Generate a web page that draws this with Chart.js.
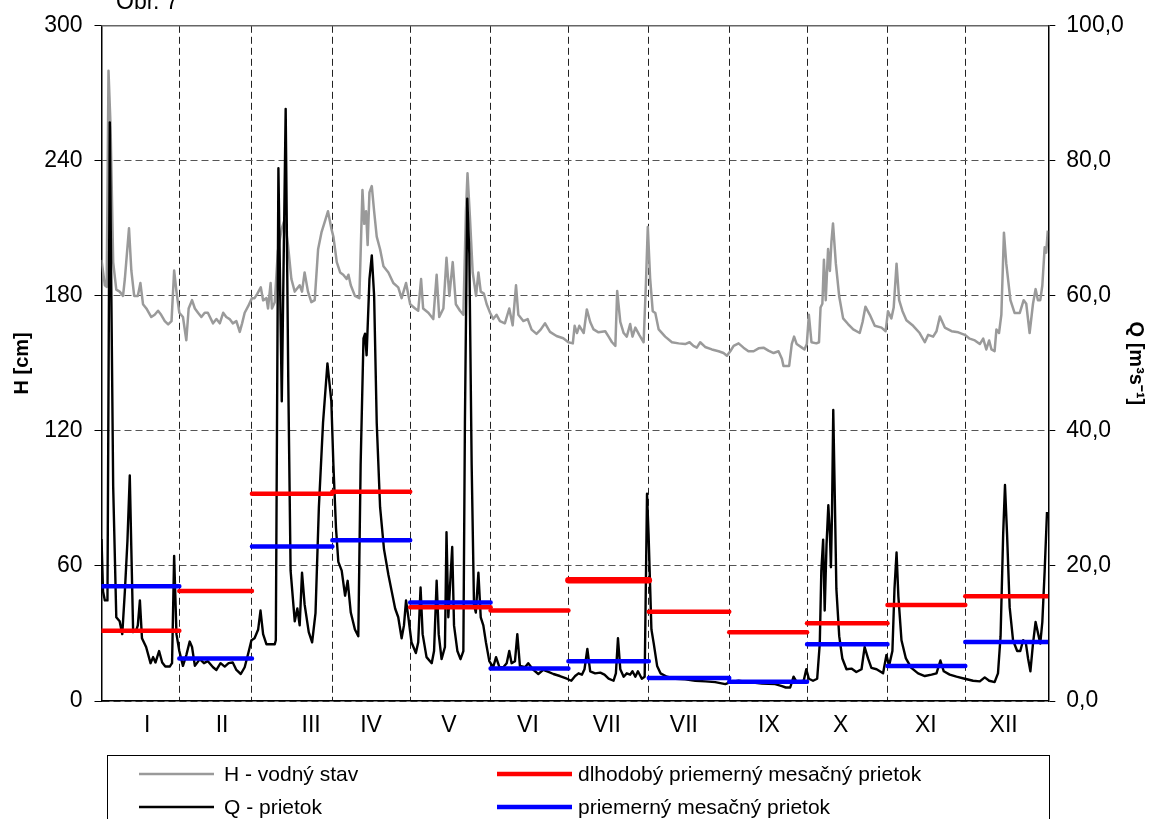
<!DOCTYPE html>
<html>
<head>
<meta charset="utf-8">
<title>Vodný stav a prietok</title>
<script src="https://cdn.jsdelivr.net/npm/chart.js@4.4.1/dist/chart.umd.min.js"></script>
<style>
  html, body { margin: 0; padding: 0; background: #fff; }
  #wrap { position: relative; width: 1158px; height: 819px; overflow: hidden; }
</style>
</head>
<body>
<div id="wrap"><canvas id="chart" width="1158" height="819"></canvas></div>
<script>
// Month labels (Roman numerals as printed) and where they sit on the day axis
const monthNames = ['I', 'II', 'III', 'IV', 'V', 'VI', 'VII', 'VII', 'IX', 'X', 'XI', 'XII'];
const monthTickDays = [17.6, 46.5, 80.8, 103.9, 133.9, 164.4, 194.8, 224.5, 257.3, 285, 317.8, 347.8];
// Month boundaries (day index), used for dashed separators and monthly bars
const monthEdges = [0, 30, 58, 89, 119, 150, 180, 211, 242, 272, 303, 333, 365];

// H - vodný stav [cm], daily readings (day index, value)
const hDays = [
  0, 1.3, 2, 2.7, 3.5, 4.5, 5.7, 7, 8.3, 9, 10.6, 11.5, 12.6, 14, 15, 16, 17.3, 19.2, 20.5, 21.8,
  23, 24.4, 25.7, 27, 28, 28.9, 30, 31.4, 32.7, 33.6, 34.9, 36, 37.2, 38.5, 39.8, 41, 43, 44.3, 45.6, 46.9,
  48.1, 49.4, 50.6, 52, 53.3, 54.2, 55.2, 56.5, 58, 59, 60.1, 61.4, 62.3, 63.6, 64.2, 65.2, 65.7, 66.8, 68, 69.5,
  70.6, 71.9, 73.2, 74.5, 76.4, 77.3, 78.3, 79.6, 80.9, 82.2, 83.5, 84.8, 86.3, 87.3, 88.6, 89.4, 90.7, 92, 93.2, 94.5,
  95.2, 96.1, 97.7, 99.4, 100.6, 101.3, 102, 102.6, 103.3, 104.2, 105.1, 106.1, 107.4, 108.7, 110.6, 112.5, 114.4, 115.7, 117.4, 119,
  120.9, 122.1, 123.2, 124, 126, 127.9, 129.2, 130.2, 131.8, 133, 134.1, 135.4, 136.6, 138.2, 139.5, 140.5, 141.1, 142, 143.1, 144.4,
  145.3, 146.2, 147.4, 148.5, 149.8, 151, 152.3, 153.6, 155.5, 157.2, 158.5, 159.8, 160.7, 162.6, 164.3, 165.8, 167.7, 169.3, 171, 172.9,
  175.4, 178, 180, 181.7, 182.4, 183.3, 184.2, 185.9, 187.1, 188.4, 189.7, 191.6, 194.2, 195.5, 196.8, 198.1, 198.8, 200, 201.3, 202.5,
  203.8, 204.7, 205.8, 207.3, 209, 209.9, 210.6, 211.5, 212.5, 213.5, 214.8, 217.3, 219.9, 222.5, 225, 226.7, 228.2, 229.5, 230.8, 232.7,
  235.3, 237.9, 239.8, 241.1, 242.4, 243.7, 245.6, 247.5, 249.4, 251.4, 253.3, 255.2, 257.1, 259.1, 261, 262.3, 262.9, 265.1, 266.1, 267,
  268, 270, 271, 271.9, 272.7, 273.7, 275.6, 276.6, 277.2, 277.9, 278.5, 279.2, 280.1, 280.8, 281.4, 282, 283.1, 284.4, 285.9, 287.8,
  289.8, 292.3, 293.4, 294.5, 296.2, 298.1, 300.7, 302.3, 303.2, 304.5, 305.4, 306.5, 307.5, 308.8, 310.3, 312.9, 315.4, 317.4, 318.7, 320.6,
  321.9, 323.2, 325.1, 327.7, 330.3, 332.8, 334.7, 336.7, 338.6, 339.9, 341.1, 342.2, 343.1, 344.3, 345, 346, 346.9, 347.9, 348.8, 350.4,
  352, 354, 355.5, 356.5, 357.8, 359.1, 360.1, 361, 361.9, 362.7, 363.6, 364.2, 364.8
];
const hValues = [
  196, 184.7, 184, 280, 255, 195, 182.8, 181.9, 180, 187.5, 210, 191.3, 180, 180, 185.7, 176.3, 174.4, 170.6, 171.6, 173.4,
  171.6, 168.8, 167.3, 168.8, 191.3, 181.9, 172.5, 170.6, 160.3, 174.4, 178.1, 174.4, 172.5, 170.6, 172.5, 172.5, 167.8, 169.7, 167.8, 172.5,
  170.6, 169.7, 167.8, 168.8, 164, 167.8, 172.5, 175.3, 179, 179, 181, 183.8, 178, 179, 174.4, 185.7, 174.4, 177.2, 200, 210,
  214, 202.6, 187.5, 181.9, 184.7, 181.9, 190.4, 181.9, 177.2, 178.1, 200.7, 208.2, 213.8, 217.6, 210, 206.3, 195, 190.4, 189.4, 187.5,
  189.4, 184.7, 180, 179, 227, 212, 217.6, 202.6, 226, 228.8, 217.6, 206.3, 200.7, 193.2, 190.4, 185.7, 183.8, 179, 185.7, 176.3,
  174.4, 173.4, 187.5, 174.4, 172.5, 169.7, 189.4, 170.6, 174.4, 196.9, 180, 195, 176.3, 173.4, 171.6, 217.6, 234.5, 215.7, 190.4, 180,
  190.4, 181.9, 181, 176.3, 172.5, 169.7, 171.6, 168.8, 167.8, 174.4, 166.9, 184.7, 171.6, 168.8, 169.7, 165, 163.1, 165, 167.8, 164,
  162.2, 161.2, 159.4, 158.9, 166.7, 163.5, 166.7, 163.5, 174, 168.4, 165.1, 163.8, 164.3, 161.9, 159.4, 157.8, 182.2, 168.4, 163.5, 161.9,
  167.5, 161.9, 165.9, 162.7, 159.4, 186.2, 210.6, 187.8, 173.2, 172.4, 165.1, 161.9, 159.4, 158.9, 158.6, 159.4, 157.8, 157, 159.4, 157.3,
  156.2, 155.4, 154.6, 153.4, 155.4, 157.8, 158.9, 157, 155.4, 155.4, 156.7, 157, 155.7, 154.6, 155.4, 152.1, 148.9, 148.9, 158.6, 161.9,
  158.6, 157, 156.2, 158.6, 171.6, 159.4, 158.9, 159.4, 174.8, 176.5, 196, 178.1, 200.8, 191.1, 204.1, 212.2, 194.3, 179.7, 170, 167.5,
  165.1, 163.5, 168.4, 175.2, 171.6, 166.7, 165.9, 164.3, 173.2, 170, 174.8, 194.3, 178.1, 173.2, 169.2, 166.7, 163.5, 159.4, 162.7, 161.9,
  164.3, 170.8, 165.9, 164.3, 163.8, 162.7, 161, 160.2, 158.6, 161, 156.2, 160.2, 156.2, 155.4, 165.1, 163.5, 171.6, 208.1, 194.3, 178.1,
  172.4, 172.4, 178.1, 176.5, 163.5, 176.5, 183, 178.1, 178.1, 184.6, 201.6, 199.2, 209
];

// Q - prietok [m3/s], daily readings (day index, value)
const qDays = [
  0, 0.6, 1.3, 2.3, 3.2, 3.8, 4.5, 5.7, 7, 8, 9, 10, 10.9, 11.5, 12.2, 13.5, 14, 14.8, 15.6, 17.2,
  18.9, 19.9, 20.8, 22.2, 23.4, 24.6, 26.3, 27.2, 28, 28.9, 30, 31.4, 32.7, 34, 34.9, 36, 37.9, 39.5, 41, 43,
  44.3, 45.9, 47.5, 49, 50.6, 52, 53.7, 55.2, 56.8, 57.8, 59, 60.4, 61.3, 62.3, 63.6, 65.5, 66.8, 67.2, 68.2, 69.5,
  71, 72, 72.9, 74.5, 75.5, 76.4, 77.3, 78.3, 79.9, 81.2, 82.5, 83.8, 85.4, 87.1, 88.6, 89.4, 90.4, 91.3, 92.6, 93.9,
  94.9, 96.1, 97.7, 99, 99.9, 101, 101.6, 102.2, 103.3, 104.2, 105.1, 106.1, 107.4, 108.9, 110.6, 111.9, 113.2, 114.4, 115.7, 116.6,
  117.4, 118.3, 119.5, 121.2, 122.1, 123, 123.8, 125.3, 127.3, 128.2, 129.2, 130, 131.1, 132.4, 133, 133.7, 134.6, 135.2, 135.9, 137.2,
  138.4, 139.5, 140.1, 141, 141.8, 142.7, 143.6, 144.3, 145.3, 146.2, 147.2, 148.2, 149.5, 151, 152.1, 153.4, 154.9, 156.2, 157.2, 158.1,
  159.4, 160.3, 161.3, 163.3, 164.5, 166.5, 168.4, 170.3, 172.3, 174.2, 176.7, 179.4, 181.1, 182.6, 183.9, 185.2, 186.2, 187.3, 188.4, 190.3,
  192.3, 193.9, 195.5, 197.4, 198.3, 199.1, 200, 201.3, 202.5, 203.8, 204.7, 205.8, 206.8, 208.3, 209.4, 210.3, 210.9, 212, 212.9, 214.2,
  215.5, 218, 221.2, 225, 228.9, 232.8, 236.6, 240.5, 242.4, 245.6, 249.4, 254.6, 259.7, 262.3, 263.8, 265.5, 266.8, 268, 270.7, 271.7,
  272.7, 274.3, 275.9, 276.9, 277.5, 278.2, 278.8, 279.5, 280.2, 280.8, 281.2, 281.6, 282.1, 282.7, 283.3, 284.4, 285.6, 287.2, 289.1, 291,
  293, 294.2, 295.5, 296.8, 298.8, 301.3, 302.6, 303.6, 304.9, 305.7, 306.5, 307.2, 308.4, 310.1, 312.2, 314.8, 317.4, 320, 321.9, 323.4,
  324.7, 327, 329.6, 332.8, 336, 338.6, 340.5, 342.2, 344.3, 345.6, 346.6, 347.6, 348.3, 349.1, 350.1, 351.4, 353, 354.2, 355.3, 356.3,
  357.2, 358.1, 359.1, 360.1, 361, 361.9, 362.7, 363.6, 364.5
];
const qValues = [
  24, 16.2, 14.9, 14.9, 85.7, 60, 31.8, 12.4, 11.8, 9.9, 16.2, 23.7, 33.4, 22.5, 10.2, 10.6, 11.2, 14.9, 9.3, 8,
  5.6, 6.5, 5.7, 7.4, 5.7, 5.1, 5.1, 5.6, 21.5, 9.9, 7.4, 5.2, 6.8, 8.8, 8, 5.2, 6.2, 5.6, 5.9, 5,
  4.6, 5.6, 5.1, 5.6, 5.7, 4.6, 4, 5, 7.4, 9, 9.3, 10.6, 13.4, 9.9, 8.4, 8.4, 8.4, 9, 78.9, 44.4,
  87.7, 47.5, 19.3, 11.8, 13.7, 11.2, 19, 14.3, 10.2, 8.7, 13, 28.7, 41.2, 50, 44.4, 35, 25.6, 20.6, 19.3, 15.6,
  17.8, 13.1, 10.6, 9.6, 35, 53.7, 54.4, 51.2, 62.5, 66, 60, 41.2, 28.7, 22.5, 18.7, 16.2, 13.7, 12.4, 9.3, 11.2,
  14.9, 12.4, 8.7, 7.1, 8.7, 16.8, 9.9, 6.5, 5.6, 7.4, 17.8, 9.9, 6.2, 8, 25, 12.4, 18.7, 22.8, 11.2, 7.4,
  6.2, 7.4, 41.2, 74.4, 66.3, 35, 14.3, 13.1, 19, 12.4, 11.2, 8.7, 5.9, 5, 6.5, 5, 5, 5.6, 7.4, 5.6,
  5.9, 9.9, 5.2, 5, 5.6, 4.6, 4, 4.6, 4.3, 4, 3.7, 3.3, 3.0, 3.7, 4.1, 3.9, 4.7, 7.7, 4.4, 4.1,
  4.2, 3.9, 3.3, 3.0, 4.1, 9.3, 4.7, 3.6, 4.1, 3.9, 4.4, 3.6, 4.4, 3.3, 3.6, 30.7, 24.7, 10.6, 8.5, 5.2,
  4.1, 3.6, 3.3, 3.2, 3.0, 2.9, 2.8, 2.5, 2.8, 3.0, 2.8, 2.6, 2.5, 2.2, 2.0, 2.0, 3.6, 2.8, 3.0, 4.7,
  3.3, 3.0, 3.3, 8.5, 19.3, 23.9, 13.4, 23.1, 29, 24.7, 19.8, 27.4, 43.1, 30.1, 16.6, 9.6, 6.3, 4.7, 4.8, 4.3,
  4.7, 8, 6.3, 4.9, 4.7, 4.1, 6.8, 5.2, 7.4, 16.6, 22, 15.5, 9, 6.3, 4.9, 4.1, 3.7, 3.9, 4.1, 6,
  4.4, 3.9, 3.6, 3.3, 3.0, 2.9, 3.5, 3.0, 2.8, 4.1, 9.6, 24.7, 32, 24.7, 13.9, 9, 7.4, 7.4, 9, 8.7,
  6.3, 4.4, 8.5, 11.7, 10.1, 8.5, 11.7, 19.3, 28
];

// Monthly discharge [m3/s]
const qLongTermMean = [10.4, 16.3, 30.7, 31.0, 13.9, 13.4, 17.9, 13.2, 10.2, 11.5, 14.2, 15.5];
const qMonthMean = [17.0, 6.3, 22.9, 23.8, 14.6, 4.8, 5.9, 3.4, 2.85, 8.4, 5.2, 8.75];

const FONT = '"Liberation Sans", Arial, sans-serif';
Chart.defaults.font.family = FONT;
Chart.defaults.color = '#000';

const toPoints = (xs, ys) => xs.map((x, i) => ({ x: x, y: ys[i] }));

// one flat segment per month, broken by a null point
function monthSegments(values) {
  const pts = [];
  values.forEach((v, i) => {
    pts.push({ x: monthEdges[i], y: v }, { x: monthEdges[i + 1], y: v }, { x: monthEdges[i + 1], y: null });
  });
  return pts;
}

const frameAndText = {
  id: 'frameAndText',
  afterDraw(chart, args, opts) {
    const { ctx, chartArea: a } = chart;
    ctx.save();
    // top edge of the plot
    ctx.strokeStyle = '#666';
    ctx.lineWidth = 1.5;
    ctx.beginPath();
    ctx.moveTo(a.left, a.top);
    ctx.lineTo(a.right, a.top);
    ctx.stroke();

    ctx.fillStyle = '#000';
    ctx.font = '23px ' + FONT;
    ctx.textBaseline = 'alphabetic';
    ctx.fillText('Obr. 7', 116, 9);

    // legend box
    ctx.strokeStyle = '#000';
    ctx.lineWidth = 1;
    ctx.strokeRect(107.5, 755.5, 942, 90);
    ctx.font = '21px ' + FONT;
    ctx.textBaseline = 'middle';
    opts.items.forEach(it => {
      const ds = chart.data.datasets[it.index];
      ctx.strokeStyle = ds.borderColor;
      ctx.lineWidth = it.width;
      ctx.beginPath();
      ctx.moveTo(it.x, it.y);
      ctx.lineTo(it.x + 75, it.y);
      ctx.stroke();
      ctx.fillText(ds.label, it.tx, it.y + 1);
    });
    ctx.restore();
  }
};

new Chart(document.getElementById('chart'), {
  type: 'line',
  data: {
    datasets: [
      {
        label: 'H - vodný stav',
        data: toPoints(hDays, hValues),
        xAxisID: 'x', yAxisID: 'y',
        borderColor: '#9a9a9a', borderWidth: 2.5,
        pointRadius: 0, tension: 0, borderJoinStyle: 'round',
        order: 4
      },
      {
        label: 'Q - prietok',
        data: toPoints(qDays, qValues),
        xAxisID: 'x', yAxisID: 'y2',
        borderColor: '#000', borderWidth: 2.4,
        pointRadius: 0, tension: 0, borderJoinStyle: 'round',
        order: 3
      },
      {
        label: 'dlhodobý priemerný mesačný prietok',
        data: monthSegments(qLongTermMean),
        xAxisID: 'x', yAxisID: 'y2',
        borderColor: '#ff0000', borderWidth: 4.5, borderCapStyle: 'round',
        // July bar is printed heavier
        segment: { borderWidth: c => (c.p0DataIndex === 18 ? 6.5 : undefined) },
        pointRadius: 0, spanGaps: false,
        order: 2
      },
      {
        label: 'priemerný mesačný prietok',
        data: monthSegments(qMonthMean),
        xAxisID: 'x', yAxisID: 'y2',
        borderColor: '#0000ff', borderWidth: 4.5, borderCapStyle: 'round',
        pointRadius: 0, spanGaps: false,
        order: 1
      }
    ]
  },
  options: {
    responsive: false,
    animation: false,
    devicePixelRatio: 1,
    layout: { padding: { top: 23, bottom: 68, left: 0, right: 0 } },
    plugins: {
      legend: { display: false },
      tooltip: { enabled: false },
      frameAndText: {
        items: [
          { index: 0, x: 139, y: 774, tx: 224, width: 2.5 },
          { index: 1, x: 139, y: 807, tx: 224, width: 2.4 },
          { index: 2, x: 497, y: 774, tx: 578, width: 4.5 },
          { index: 3, x: 497, y: 807, tx: 578, width: 4.5 }
        ]
      }
    },
    scales: {
      // month separators only
      x: {
        type: 'linear', position: 'bottom', min: 0, max: 365,
        afterBuildTicks: s => { s.ticks = monthEdges.slice(1, -1).map(v => ({ value: v })); },
        afterFit: s => { s.height = 0; },
        ticks: { display: false },
        grid: { color: '#222', lineWidth: 1, drawTicks: false },
        border: { display: false, dash: [7, 4] }
      },
      // month names
      xl: {
        type: 'linear', position: 'bottom', min: 0, max: 365,
        afterBuildTicks: s => { s.ticks = monthTickDays.map(v => ({ value: v })); },
        afterFit: s => { s.height = 50; },
        ticks: {
          autoSkip: false, maxRotation: 0, padding: 11,
          font: { size: 23 },
          callback: (v, i) => monthNames[i]
        },
        grid: { display: false, drawTicks: false },
        border: { display: true, color: '#000', width: 1.5 }
      },
      y: {
        type: 'linear', position: 'left', min: 0, max: 300,
        afterFit: s => { s.width = 101.5; },
        ticks: { stepSize: 60, padding: 12, font: { size: 23 } },
        grid: { color: '#555', lineWidth: 1, tickLength: 7, tickColor: '#000' },
        border: { display: true, color: '#000', width: 1.5, dash: [7, 4] },
        title: {
          display: true, text: 'H [cm]',
          font: { size: 20, weight: 'bold' },
          padding: { top: 10, bottom: 0 }
        }
      },
      y2: {
        type: 'linear', position: 'right', min: 0, max: 100,
        afterFit: s => { s.width = 109.7; },
        ticks: {
          stepSize: 20, padding: 11, font: { size: 23 },
          callback: v => v.toFixed(1).replace('.', ',')
        },
        grid: { drawOnChartArea: false, tickLength: 7, tickColor: '#000' },
        border: { display: true, color: '#000', width: 1.5 },
        title: {
          display: true, text: 'Q [m³s⁻¹]',
          font: { size: 20, weight: 'bold' },
          padding: { top: 10, bottom: 0 }
        }
      }
    }
  },
  plugins: [frameAndText]
});
</script>
</body>
</html>
